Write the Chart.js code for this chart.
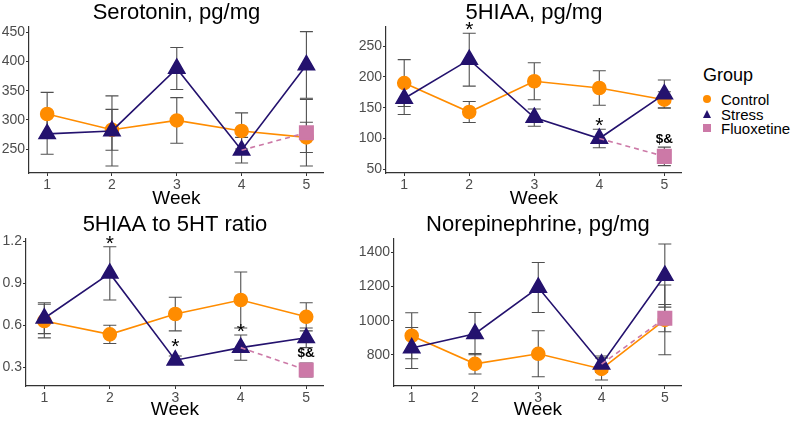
<!DOCTYPE html>
<html>
<head>
<meta charset="utf-8">
<script src="https://cdn.jsdelivr.net/npm/chart.js@4.4.1/dist/chart.umd.min.js"></script>
<style>
  body { margin: 0; background: #fff; width: 793px; height: 421px; position: relative; overflow: hidden;
         font-family: "Liberation Sans", Arial, sans-serif; }
  .panel { position: absolute; }
  .lg { position: absolute; color: #000; white-space: nowrap; }
  .lg-title { left: 703px; top: 66px; font-size: 18px; line-height: 18px; }
  .lg-item { left: 721px; font-size: 15px; line-height: 15px; }
  .sym { position: absolute; }
</style>
</head>
<body>
<div class="panel" style="left:0;top:0"><canvas id="c1" width="335" height="210"></canvas></div>
<div class="panel" style="left:340px;top:0"><canvas id="c2" width="353" height="210"></canvas></div>
<div class="panel" style="left:0;top:212px"><canvas id="c3" width="335" height="209"></canvas></div>
<div class="panel" style="left:340px;top:212px"><canvas id="c4" width="353" height="209"></canvas></div>

<div class="lg lg-title">Group</div>
<div class="sym" style="left:703px;top:95px;width:8px;height:8px;border-radius:50%;background:#FF8C00"></div>
<div class="lg lg-item" style="top:92px">Control</div>
<div class="sym" style="left:703px;top:110px;width:0;height:0;border-left:4.5px solid transparent;border-right:4.5px solid transparent;border-bottom:8px solid #24126E"></div>
<div class="lg lg-item" style="top:107px">Stress</div>
<div class="sym" style="left:703px;top:124px;width:8px;height:8px;background:#CC79A7"></div>
<div class="lg lg-item" style="top:121px">Fluoxetine</div>

<script>
const weeks = [1, 2, 3, 4, 5];

// Serotonin, pg/mg
const serControl = [310, 283, 299, 281, 270];
const serControlErr = [37, 35, 39, 31, 26];
const serStress = [276, 281, 388, 248, 394];
const serStressErr = [35, 60, 36, 22, 57];
const serFluox = [null, null, null, 248, 278];
const serFluoxErr = [null, null, null, null, 57];
const serStressSig = ['', '', '', '', ''];
const serFluoxSig = ['', '', '', '', ''];
const serTicks = [250, 300, 350, 400, 450];

// 5HIAA, pg/mg
const hiaaControl = [190, 143, 193, 182, 163];
const hiaaControlErr = [38, 17, 30, 28, 13];
const hiaaStress = [165, 228, 134, 100, 172];
const hiaaStressErr = [26, 43, 14, 15, 23];
const hiaaFluox = [null, null, null, 100, 71];
const hiaaFluoxErr = [null, null, null, null, 15];
const hiaaStressSig = ['', '*', '', '*', ''];
const hiaaFluoxSig = ['', '', '', '', '$&'];
const hiaaTicks = [50, 100, 150, 200, 250];

// 5HIAA to 5HT ratio
const ratioControl = [0.63, 0.535, 0.68, 0.78, 0.66];
const ratioControlErr = [0.12, 0.065, 0.12, 0.2, 0.1];
const ratioStress = [0.65, 0.97, 0.35, 0.44, 0.51];
const ratioStressErr = [0.11, 0.19, 0.03, 0.09, 0.07];
const ratioFluox = [null, null, null, 0.44, 0.28];
const ratioFluoxErr = [null, null, null, null, 0.05];
const ratioStressSig = ['', '*', '*', '*', ''];
const ratioFluoxSig = ['', '', '', '', '$&'];
const ratioTicks = [0.3, 0.6, 0.9, 1.2];

// Norepinephrine, pg/mg
const neControl = [912, 747, 806, 717, 1005];
const neControlErr = [135, 60, 135, 65, 205];
const neStress = [840, 924, 1195, 745, 1265];
const neStressErr = [120, 124, 147, 48, 185];
const neFluox = [null, null, null, 745, 1015];
const neFluoxErr = [null, null, null, null, 80];
const neStressSig = ['', '', '', '', ''];
const neFluoxSig = ['', '', '', '', ''];
const neTicks = [800, 1000, 1200, 1400];

Chart.defaults.font.family = '"Liberation Sans", Arial, sans-serif';

const toPoints = arr => weeks.map((w, i) => ({ x: w, y: arr[i] }));

// error bars, drawn under the lines and markers
const errorBars = {
  id: 'errorBars',
  beforeDatasetsDraw(chart) {
    const { ctx, scales: { x, y } } = chart;
    ctx.save();
    ctx.strokeStyle = '#505050';
    ctx.lineWidth = 1.1;
    chart.data.datasets.forEach(ds => {
      if (!ds.err) return;
      ds.data.forEach((p, i) => {
        const e = ds.err[i];
        if (p.y == null || e == null) return;
        const px = x.getPixelForValue(p.x);
        const top = y.getPixelForValue(p.y + e);
        const bot = y.getPixelForValue(p.y - e);
        ctx.beginPath();
        ctx.moveTo(px, top); ctx.lineTo(px, bot);
        ctx.moveTo(px - 6.5, top); ctx.lineTo(px + 6.5, top);
        ctx.moveTo(px - 6.5, bot); ctx.lineTo(px + 6.5, bot);
        ctx.stroke();
      });
    });
    ctx.restore();
  }
};

// significance marks above the upper error bar
const sigMarks = {
  id: 'sigMarks',
  afterDatasetsDraw(chart) {
    const { ctx, scales: { x, y } } = chart;
    ctx.save();
    ctx.fillStyle = '#000';
    ctx.textAlign = 'center';
    ctx.textBaseline = 'alphabetic';
    chart.data.datasets.forEach(ds => {
      if (!ds.sig) return;
      ds.data.forEach((p, i) => {
        const s = ds.sig[i];
        if (!s || p.y == null) return;
        const px = x.getPixelForValue(p.x);
        const e = ds.err[i] || 0;
        const capY = Math.min(y.getPixelForValue(p.y + e), y.getPixelForValue(p.y) - 10);
        if (s === '*') {
          ctx.font = '21px "Liberation Sans", Arial, sans-serif';
          ctx.fillText(s, px, capY + 3);
        } else {
          ctx.font = 'bold 13.5px "Liberation Sans", Arial, sans-serif';
          ctx.fillText(s, px, capY - 3);
        }
      });
    });
    ctx.restore();
  }
};

function makePanel(id, title, yMin, yMax, yTicks, yWidth, padRight, xHeight, s) {
  const ratio = yTicks[0] < 1;
  new Chart(document.getElementById(id), {
    type: 'line',
    data: {
      datasets: [
        {
          label: 'Control',
          data: toPoints(s.control),
          err: s.controlErr,
          borderColor: '#FF8C00',
          backgroundColor: '#FF8C00',
          borderWidth: 1.6,
          pointStyle: 'circle',
          pointRadius: 6.5,
          pointBackgroundColor: '#FF8C00',
          pointBorderColor: '#FF8C00',
          order: 3
        },
        {
          label: 'Stress',
          data: toPoints(s.stress),
          err: s.stressErr,
          sig: s.stressSig,
          borderColor: '#24126E',
          backgroundColor: '#24126E',
          borderWidth: 1.6,
          pointStyle: 'triangle',
          pointRadius: 9.3,
          pointBackgroundColor: '#24126E',
          pointBorderColor: '#24126E',
          order: 2
        },
        {
          label: 'Fluoxetine',
          data: toPoints(s.fluox),
          err: s.fluoxErr,
          sig: s.fluoxSig,
          borderColor: '#CC79A7',
          backgroundColor: '#CC79A7',
          borderWidth: 1.6,
          borderDash: [5, 4],
          pointStyle: 'rect',
          pointRadius: s.fluoxErr.map(e => e == null ? 0 : 9.5),
          pointBackgroundColor: '#CC79A7',
          pointBorderColor: '#CC79A7',
          order: 1
        }
      ]
    },
    options: {
      responsive: false,
      animation: false,
      layout: { padding: { right: padRight, left: 0, top: 0, bottom: 0 } },
      plugins: {
        legend: { display: false },
        tooltip: { enabled: false },
        title: {
          display: true,
          text: title,
          color: '#000',
          fullSize: false,
          padding: { top: 0, bottom: 0 },
          font: { size: 22, weight: 'normal' }
        }
      },
      scales: {
        x: {
          type: 'linear',
          min: 0.72,
          max: 5.27,
          afterBuildTicks: axis => { axis.ticks = weeks.map(v => ({ value: v })); },
          afterFit: axis => { axis.height = xHeight; },
          grid: { drawOnChartArea: false, drawTicks: true, tickLength: 3, color: '#333' },
          border: { display: true, color: '#333', width: 1.2 },
          ticks: { color: '#4d4d4d', font: { size: 14 }, padding: 1, callback: v => v },
          title: { display: true, text: 'Week', color: '#000', font: { size: 19 }, padding: { top: 0, bottom: 0 } }
        },
        y: {
          min: yMin,
          max: yMax,
          afterBuildTicks: axis => { axis.ticks = yTicks.map(v => ({ value: v })); },
          afterFit: axis => { axis.width = yWidth; },
          grid: { drawOnChartArea: false, drawTicks: true, tickLength: 3, color: '#333' },
          border: { display: true, color: '#333', width: 1.2 },
          ticks: { color: '#4d4d4d', font: { size: 14 }, padding: 1,
                   callback: v => ratio ? v.toFixed(1) : v }
        }
      }
    },
    plugins: [errorBars, sigMarks]
  });
}

makePanel('c1', 'Serotonin, pg/mg', 209, 460, serTicks, 29, 5, 37, {
  control: serControl, controlErr: serControlErr,
  stress: serStress, stressErr: serStressErr, stressSig: serStressSig,
  fluox: serFluox, fluoxErr: serFluoxErr, fluoxSig: serFluoxSig
});
makePanel('c2', '5HIAA, pg/mg', 44, 282, hiaaTicks, 46, 3, 37, {
  control: hiaaControl, controlErr: hiaaControlErr,
  stress: hiaaStress, stressErr: hiaaStressErr, stressSig: hiaaStressSig,
  fluox: hiaaFluox, fluoxErr: hiaaFluoxErr, fluoxSig: hiaaFluoxSig
});
makePanel('c3', '5HIAA to 5HT ratio', 0.166, 1.22, ratioTicks, 26, 5, 35, {
  control: ratioControl, controlErr: ratioControlErr,
  stress: ratioStress, stressErr: ratioStressErr, stressSig: ratioStressSig,
  fluox: ratioFluox, fluoxErr: ratioFluoxErr, fluoxSig: ratioFluoxSig
});
makePanel('c4', 'Norepinephrine, pg/mg', 617, 1483, neTicks, 54, 5, 35, {
  control: neControl, controlErr: neControlErr,
  stress: neStress, stressErr: neStressErr, stressSig: neStressSig,
  fluox: neFluox, fluoxErr: neFluoxErr, fluoxSig: neFluoxSig
});
</script>
</body>
</html>
